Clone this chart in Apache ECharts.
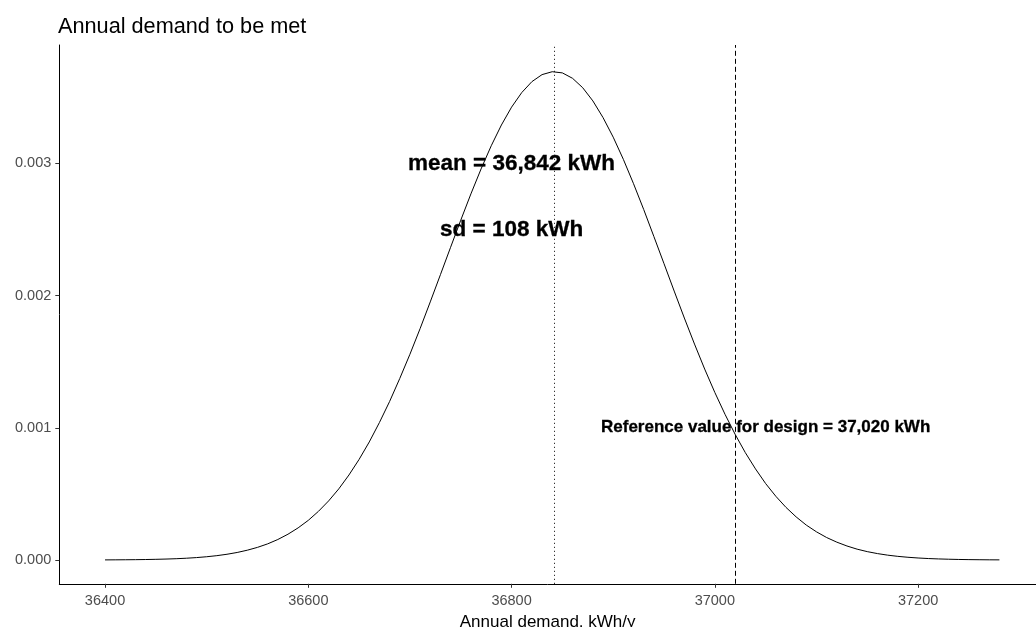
<!DOCTYPE html>
<html>
<head>
<meta charset="utf-8">
<script src="https://cdn.jsdelivr.net/npm/echarts@6/dist/echarts.min.js"></script>
<style>
html,body{margin:0;padding:0;background:#fff;}
#chart{width:1036px;height:627px;}
</style>
</head>
<body>
<div id="chart"></div>
<script>
// Demand values (kWh/y) along the curve
const demandX = [36400,36410,36420,36430,36440,36450,36460,36470,36480,36490,
  36500,36510,36520,36530,36540,36550,36560,36570,36580,36590,
  36600,36610,36620,36630,36640,36650,36660,36670,36680,36690,
  36700,36710,36720,36730,36740,36750,36760,36770,36780,36790,
  36800,36810,36820,36830,36840,36850,36860,36870,36880,36890,
  36900,36910,36920,36930,36940,36950,36960,36970,36980,36990,
  37000,37010,37020,37030,37040,37050,37060,37070,37080,37090,
  37100,37110,37120,37130,37140,37150,37160,37170,37180,37190,
  37200,37210,37220,37230,37240,37250,37260,37270,37280];
// Density
const densityY = [0.0000008,0.0000012,0.0000018,0.0000025,0.0000036,0.0000051,0.0000071,0.0000098,0.0000134,0.0000183,
  0.0000246,0.0000328,0.0000434,0.0000569,0.0000741,0.0000956,0.000122,0.000155,0.000195,0.000243,
  0.000300,0.000368,0.000447,0.000538,0.000643,0.000761,0.000893,0.001040,0.001199,0.001373,
  0.001556,0.001750,0.001952,0.002158,0.002365,0.002570,0.002769,0.002958,0.003133,0.003290,
  0.003425,0.003535,0.003618,0.003671,0.003693,0.003684,0.003643,0.003572,0.003472,0.003346,
  0.003198,0.003030,0.002846,0.002651,0.002447,0.002241,0.002034,0.001830,0.001633,0.001444,
  0.001267,0.001102,0.000950,0.000812,0.000689,0.000578,0.000482,0.000398,0.000326,0.000264,
  0.000213,0.000170,0.000135,0.000106,0.000082,0.0000633,0.0000485,0.0000367,0.0000276,0.0000206,
  0.0000152,0.0000111,0.0000081,0.0000058,0.0000041,0.0000029,0.0000021,0.0000014,0.000001];
const meanValue = 36842;
const referenceValue = 37020;
const xTicks = [36400, 36600, 36800, 37000, 37200];
const yTicks = [0, 0.001, 0.002, 0.003];
const annotX = [36800, 36800, 37050];
const annotY = [0.003, 0.0025, 0.001];
const annotText = ['mean = 36,842 kWh', 'sd = 108 kWh', 'Reference value for design = 37,020 kWh'];
const annotSize = [22.5, 22.5, 17];

const FONT = '"Liberation Sans", Arial, sans-serif';
const chart = echarts.init(document.getElementById('chart'), null, {renderer: 'canvas'});

const annotData = annotX.map((x, i) => ({
  value: [x, annotY[i]],
  label: {show: true, position: 'inside', formatter: annotText[i], fontSize: annotSize[i],
          fontWeight: 'bold', color: '#000', fontFamily: FONT,
          textBorderColor: '#000', textBorderWidth: 0.3}
}));

chart.setOption({
  animation: false,
  backgroundColor: '#ffffff',
  title: {
    text: 'Annual demand to be met',
    left: 53, top: 11,
    textStyle: {fontFamily: FONT, fontSize: 21.7, fontWeight: 'normal', color: '#000'}
  },
  grid: {left: 59.3, right: 0, top: 45, bottom: 43.2, containLabel: false, outerBoundsMode: 'none'},
  xAxis: {
    type: 'value', min: 36355, max: 37316,
    name: 'Annual demand, kWh/y', nameLocation: 'middle', nameGap: 28,
    nameTextStyle: {fontFamily: FONT, fontSize: 17, color: '#000'},
    axisLine: {show: true, onZero: false, lineStyle: {color: '#000', width: 1}},
    axisTick: {show: true, length: 4, customValues: xTicks, lineStyle: {color: '#333'}},
    axisLabel: {customValues: xTicks, margin: 10, fontFamily: FONT, fontSize: 14.5, color: '#4d4d4d',
                formatter: v => String(v)},
    splitLine: {show: false}
  },
  yAxis: {
    type: 'value', min: -0.00018, max: 0.003895,
    axisLine: {show: true, onZero: false, lineStyle: {color: '#000', width: 1}},
    axisTick: {show: true, length: 4, customValues: yTicks, lineStyle: {color: '#333'}},
    axisLabel: {customValues: yTicks, margin: 8, fontFamily: FONT, fontSize: 14.5, color: '#4d4d4d',
                formatter: v => v.toFixed(3)},
    splitLine: {show: false}
  },
  series: [
    {
      type: 'line',
      data: demandX.map((x, i) => [x, densityY[i]]),
      showSymbol: false, smooth: false,
      lineStyle: {color: '#000', width: 1},
      markLine: {
        silent: true, symbol: 'none', label: {show: false},
        data: [
          {xAxis: meanValue, lineStyle: {type: [1, 3], color: '#000', width: 1}},
          {xAxis: referenceValue, lineStyle: {type: [5, 3], color: '#000', width: 1}}
        ]
      }
    },
    {
      type: 'scatter', symbolSize: 1, silent: true,
      itemStyle: {color: 'rgba(0,0,0,0)', opacity: 1},
      data: annotData
    }
  ]
});
</script>
</body>
</html>
